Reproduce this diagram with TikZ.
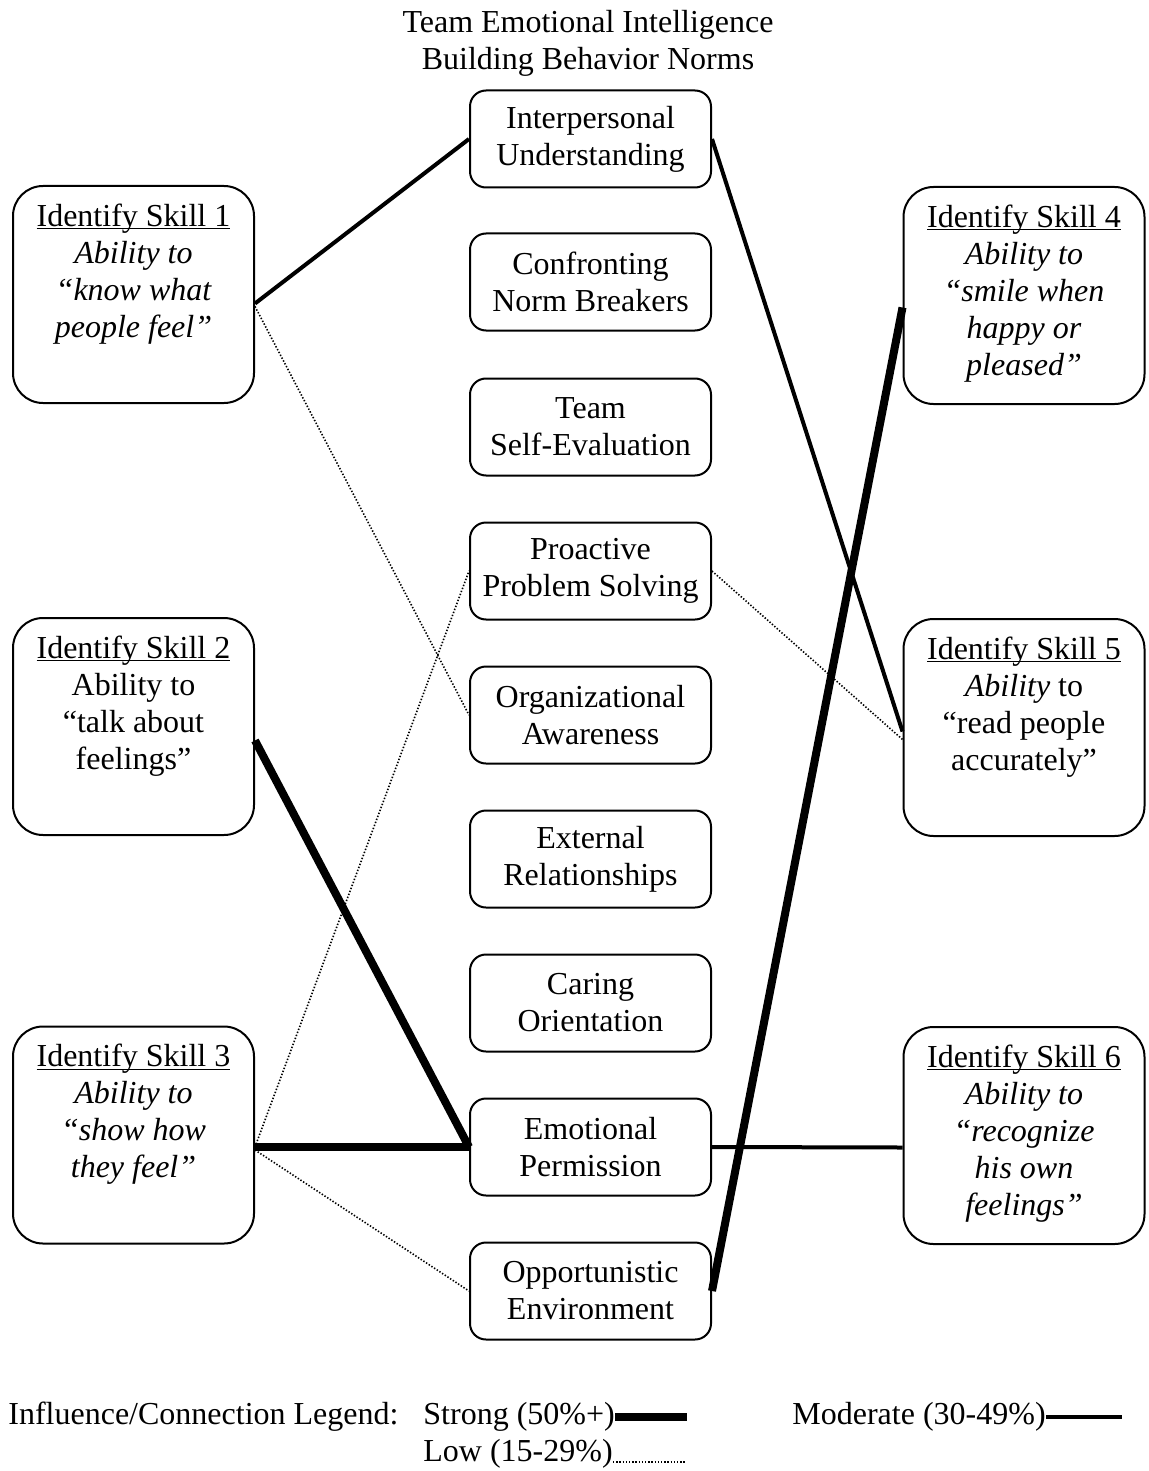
\documentclass[tikz,border=0pt]{standalone}
\usepackage{fontspec}
\setmainfont{Liberation Serif}
\newcommand{\skilltext}[1]{\parbox[c][96.5pt][t]{108.5pt}{\centering\rule{0pt}{14pt}#1}}
\newcommand{\skilltitle}[1]{\underline{\smash{#1}}}
\begin{document}
\begin{tikzpicture}[x=0.5pt, y=-0.5pt,
    font=\fontsize{16}{18.5}\selectfont,
    skillbox/.style={draw, line width=1pt, rounded corners=15pt, inner sep=6pt},
    normbox/.style={draw, line width=1pt, rounded corners=8pt, align=center,
      minimum width=120.5pt, minimum height=48.5pt, inner sep=2pt},
    strongline/.style={line width=4pt},
    modline/.style={line width=2pt},
    lowline/.style={line width=0.8pt, dash pattern=on 0.7pt off 0.9pt}]
  \useasboundingbox (0,0) rectangle (1149,1471);
  \node[align=center] (title) at (588,43) {Team Emotional Intelligence\\Building Behavior Norms};

  \node[normbox] (interp) at (590.5,139) {Interpersonal\\Understanding};
  \node[normbox] (confront) at (590.5,282) {Confronting\\Norm Breakers};
  \node[normbox] (teamself) at (590.5,427) {Team\\Self-Evaluation};
  \node[normbox] (proactive) at (590.5,571) {Proactive\\Problem Solving};
  \node[normbox] (orgaware) at (590.5,715) {Organizational\\Awareness};
  \node[normbox] (external) at (590.5,859) {External\\Relationships};
  \node[normbox] (caring) at (590.5,1003) {Caring\\Orientation};
  \node[normbox] (emoperm) at (590.5,1147) {Emotional\\Permission};
  \node[normbox] (opport) at (590.5,1291) {Opportunistic\\Environment};

  \node[skillbox] (skill1) at (133.5,294.5) {\skilltext{\skilltitle{Identify Skill 1}\\{\itshape Ability to\\“know what\\people feel”}}};
  \node[skillbox] (skill2) at (133.5,726.5) {\skilltext{\skilltitle{Identify Skill 2}\\Ability to\\“talk about\\feelings”}};
  \node[skillbox] (skill3) at (133.5,1135) {\skilltext{\skilltitle{Identify Skill 3}\\{\itshape Ability to\\“show how\\they feel”}}};
  \node[skillbox] (skill4) at (1024,295.5) {\skilltext{\skilltitle{Identify Skill 4}\\{\itshape Ability to\\“smile when\\happy or\\pleased”}}};
  \node[skillbox] (skill5) at (1024,727.5) {\skilltext{\skilltitle{Identify Skill 5}\\{\itshape Ability} to\\“read people\\accurately”}};
  \node[skillbox] (skill6) at (1024,1135.5) {\skilltext{\skilltitle{Identify Skill 6}\\{\itshape Ability to\\“recognize\\his own\\feelings”}}};

  \draw[modline] ([yshift=-4.5pt]skill1.east) -- (interp.west);
  \draw[lowline] ([yshift=-6pt]skill1.east) -- (orgaware.west);
  \draw[modline] (interp.east) -- ([yshift=-2pt]skill5.west);
  \draw[lowline] (proactive.east) -- ([yshift=-6pt]skill5.west);
  \draw[strongline] ([yshift=-7pt]skill2.east) -- (emoperm.west);
  \draw[strongline] ([yshift=-6pt]skill3.east) -- (emoperm.west);
  \draw[lowline] ([yshift=-6pt]skill3.east) -- (proactive.west);
  \draw[lowline] ([yshift=-7.5pt]skill3.east) -- (opport.west);
  \draw[modline] (emoperm.east) -- ([yshift=-6pt]skill6.west);
  \draw[strongline] (opport.east) -- ([yshift=-6pt]skill4.west);

  \node[anchor=west, inner sep=0] (legend) at (8,1417) {Influence/Connection Legend:};
  \node[anchor=west, inner sep=0] (lgstrong) at (423,1417) {Strong (50\%+)};
  \node[anchor=west, inner sep=0] (lgmod) at (792,1417) {Moderate (30-49\%)};
  \node[anchor=west, inner sep=0] (lglow) at (423,1454) {Low (15-29\%)};
  \coordinate (lgstrongend) at (687,1417);
  \coordinate (lgmodend) at (1122,1417);
  \coordinate (lglowend) at (685,1460);
  \draw[strongline] (lgstrong.east) -- (lgstrongend);
  \draw[modline] (lgmod.east) -- (lgmodend);
  \draw[lowline] (lglow.base east) -- (lglowend |- lglow.base);
\end{tikzpicture}
\end{document}
